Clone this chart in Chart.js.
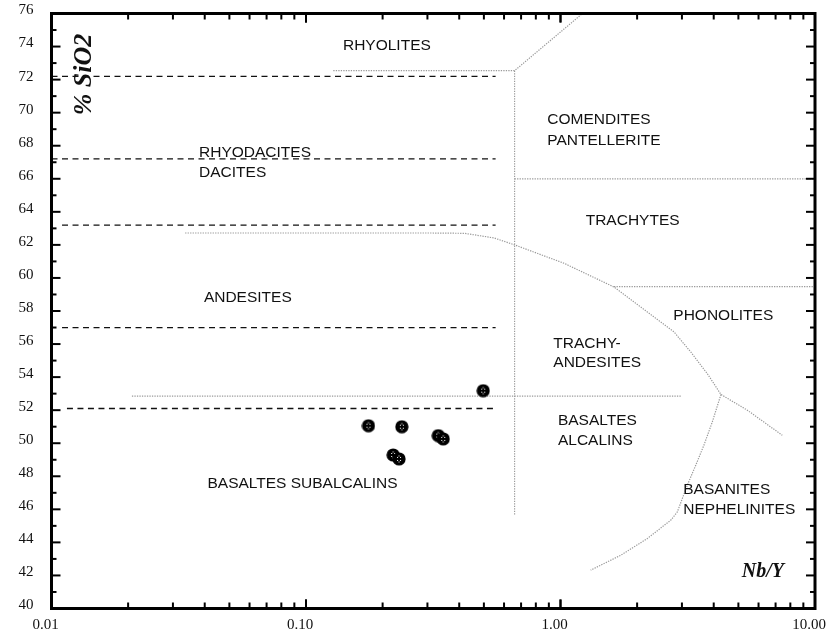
<!DOCTYPE html>
<html>
<head>
<meta charset="utf-8">
<title>Nb/Y – SiO2</title>
<script src="https://cdn.jsdelivr.net/npm/chart.js@4.4.1/dist/chart.umd.min.js"></script>
<style>
  html, body { margin: 0; padding: 0; background: #fff; }
  #wrap { width: 834px; height: 632px; position: relative; }
</style>
</head>
<body>
<div id="wrap"><canvas id="chart"></canvas></div>
<script>
// ---- Samples: Nb/Y ratio against SiO2 (wt %) ----
const sampleNbY  = [0.176, 0.238, 0.220, 0.232, 0.331, 0.346, 0.497];
const sampleSiO2 = [51.06, 51.00, 49.29, 49.05, 50.46, 50.26, 53.18];

// ---- Axis ticks ----
const xTickValues = [0.01, 0.1, 1, 10];
const xTickLabels = ['0.01', '0.10', '1.00', '10.00'];
const yTickLabels = ['40','42','44','46','48','50','52','54','56','58','60','62','64','66','68','70','72','74','76'];

// ---- SiO2 class limits (dashed) ----
const silicaLimitLevel = [72.2, 67.2, 63.2, 57.0, 52.1];
const silicaLimitFrom  = [0.010, 0.010, 0.011, 0.011, 0.0115];
const silicaLimitTo    = [0.556, 0.556, 0.556, 0.556, 0.556];

// ---- Field boundaries (dotted) ----
const rhyoliteLimitX   = [0.128, 0.66, 1.22];
const rhyoliteLimitY   = [72.54, 72.54, 76.0];
const alkaliDividerX   = [0.66, 0.66];
const alkaliDividerY   = [72.54, 45.64];
const comenditeLimitX  = [0.66, 10];
const comenditeLimitY  = [65.99, 65.99];
const trachyteLimitX   = [0.0335, 0.307, 0.42, 0.548, 0.66, 1.032, 1.623, 2.193, 2.793, 3.249, 3.775, 4.27, 5.42, 7.44];
const trachyteLimitY   = [62.72, 62.72, 62.70, 62.42, 62.0, 60.89, 59.45, 57.94, 56.73, 55.52, 54.21, 52.95, 52.0, 50.48];
const phonoliteLimitX  = [1.623, 10];
const phonoliteLimitY  = [59.47, 59.47];
const basaltLimitX     = [0.0207, 2.975];
const basaltLimitY     = [52.85, 52.85];
const basaniteLimitX   = [4.27, 3.95, 3.66, 3.40, 3.15, 2.877, 2.71, 2.193, 1.724, 1.314];
const basaniteLimitY   = [52.95, 51.29, 49.88, 48.67, 47.46, 45.84, 45.34, 44.23, 43.22, 42.32];

// ---- Field names, anchored at (Nb/Y, SiO2) ----
const fieldNames = ['RHYOLITES', 'RHYODACITES', 'DACITES', 'ANDESITES', 'BASALTES SUBALCALINS',
                    'COMENDITES', 'PANTELLERITE', 'TRACHYTES', 'PHONOLITES', 'TRACHY-', 'ANDESITES',
                    'BASALTES', 'ALCALINS', 'BASANITES', 'NEPHELINITES'];
const fieldNbY  = [0.1397, 0.038, 0.038, 0.0397, 0.041, 0.887, 0.887, 1.256, 2.775, 0.937, 0.937, 0.977, 0.977, 3.037, 3.037];
const fieldSiO2 = [74.06, 67.58, 66.39, 58.83, 47.55, 69.56, 68.31, 63.45, 57.73, 56.02, 54.87, 51.39, 50.18, 47.19, 45.95];

const pts = (xs, ys) => xs.map((x, i) => ({ x: x, y: ys[i] }));

// Filled sample marker with a small white cross of dots
function makeMarker() {
  const m = document.createElement('canvas');
  m.width = 14; m.height = 14;
  const g = m.getContext('2d');
  g.fillStyle = '#000';
  g.beginPath(); g.arc(7, 7, 6.6, 0, Math.PI * 2); g.fill();
  g.fillStyle = '#fff';
  [[5, 5], [8, 5], [5, 8], [8, 8], [6.5, 3.5], [6.5, 9.5]].forEach(([a, b]) => g.fillRect(a, b, 1, 1));
  return m;
}

const dotted = { borderColor: '#9a9a9a', borderWidth: 1.2, borderDash: [1.3, 1.2] };
const dashed = { borderColor: '#111', borderWidth: 1.3, borderDash: [6, 4.5] };

function boundary(xs, ys, style) {
  return Object.assign({ data: pts(xs, ys), showLine: true, pointRadius: 0, fill: false, tension: 0 }, style);
}

const datasets = [
  {
    data: pts(sampleNbY, sampleSiO2),
    pointStyle: makeMarker(),
    pointRadius: 7,
    showLine: false
  },
  boundary(rhyoliteLimitX, rhyoliteLimitY, dotted),
  boundary(alkaliDividerX, alkaliDividerY, dotted),
  boundary(comenditeLimitX, comenditeLimitY, dotted),
  boundary(trachyteLimitX, trachyteLimitY, dotted),
  boundary(phonoliteLimitX, phonoliteLimitY, dotted),
  boundary(basaltLimitX, basaltLimitY, dotted),
  boundary(basaniteLimitX, basaniteLimitY, dotted)
];
silicaLimitLevel.forEach((lv, i) => {
  datasets.push(boundary([silicaLimitFrom[i], silicaLimitTo[i]], [lv, lv], dashed));
});

// Frame, inward tick marks, field names and axis titles
const framePlugin = {
  id: 'frameAndText',
  afterDatasetsDraw(chart) {
    const { ctx, chartArea: a, scales: { x, y } } = chart;
    ctx.save();
    ctx.strokeStyle = '#000';
    ctx.lineCap = 'butt';
    const seg = (x1, y1, x2, y2) => { ctx.beginPath(); ctx.moveTo(x1, y1); ctx.lineTo(x2, y2); ctx.stroke(); };

    ctx.lineWidth = 2;
    for (let v = y.min; v <= y.max; v++) {
      const py = y.getPixelForValue(v);
      const len = v % 2 === 0 ? 9 : 5;
      seg(a.left, py, a.left + len, py);
      seg(a.right, py, a.right - len, py);
    }
    for (let d = x.min; d < x.max * 0.999; d *= 10) {
      for (let m = 1; m <= 10; m++) {
        const px = x.getPixelForValue(d * m);
        const len = (m === 1 || m === 10) ? 9 : 6;
        seg(px, a.bottom, px, a.bottom - len);
        seg(px, a.top, px, a.top + len);
      }
    }

    ctx.lineWidth = 3;
    ctx.strokeRect(a.left, a.top, a.right - a.left, a.bottom - a.top);

    // field names
    ctx.fillStyle = '#111';
    ctx.font = '15.5px "Liberation Sans", Arial, sans-serif';
    ctx.textAlign = 'left';
    ctx.textBaseline = 'middle';
    fieldNames.forEach((t, i) => {
      ctx.fillText(t, x.getPixelForValue(fieldNbY[i]), y.getPixelForValue(fieldSiO2[i]));
    });

    // axis titles
    ctx.font = 'italic bold 20px "Liberation Serif", "Times New Roman", serif';
    ctx.textAlign = 'right';
    ctx.fillText('Nb/Y', x.getPixelForValue(7.55), y.getPixelForValue(42.21));

    ctx.save();
    ctx.translate(x.getPixelForValue(0.01342), y.getPixelForValue(72.31));
    ctx.rotate(-Math.PI / 2);
    ctx.font = 'italic bold 26px "Liberation Serif", "Times New Roman", serif';
    ctx.textAlign = 'center';
    ctx.fillText('% SiO2', 0, 0);
    ctx.restore();

    ctx.restore();
  }
};

const tickFont = { family: '"Liberation Serif", "Times New Roman", serif', size: 15 };

new Chart(document.getElementById('chart'), {
  type: 'scatter',
  data: { datasets },
  options: {
    responsive: true,
    maintainAspectRatio: false,
    animation: false,
    layout: { padding: { top: 13.5, right: 19, left: 0, bottom: 0 } },
    plugins: { legend: { display: false }, tooltip: { enabled: false } },
    scales: {
      x: {
        type: 'logarithmic',
        min: 0.01,
        max: 10,
        grid: { display: false, drawTicks: false },
        border: { display: false },
        afterBuildTicks: s => { s.ticks = xTickValues.map(v => ({ value: v })); },
        afterFit: s => { s.height = 23.5; s.paddingLeft = 0; s.paddingRight = 0; },
        ticks: {
          autoSkip: false, maxRotation: 0, minRotation: 0,
          padding: 8, labelOffset: -6, color: '#111', font: tickFont,
          callback: (v, i) => xTickLabels[i]
        }
      },
      y: {
        min: 40,
        max: 76,
        grid: { display: false, drawTicks: false },
        border: { display: false },
        afterFit: s => { s.width = 51.5; s.paddingTop = 0; s.paddingBottom = 0; },
        ticks: {
          stepSize: 2, padding: 18, labelOffset: -3, color: '#111', font: tickFont,
          callback: (v, i) => yTickLabels[i]
        }
      }
    }
  },
  plugins: [framePlugin]
});
</script>
</body>
</html>
